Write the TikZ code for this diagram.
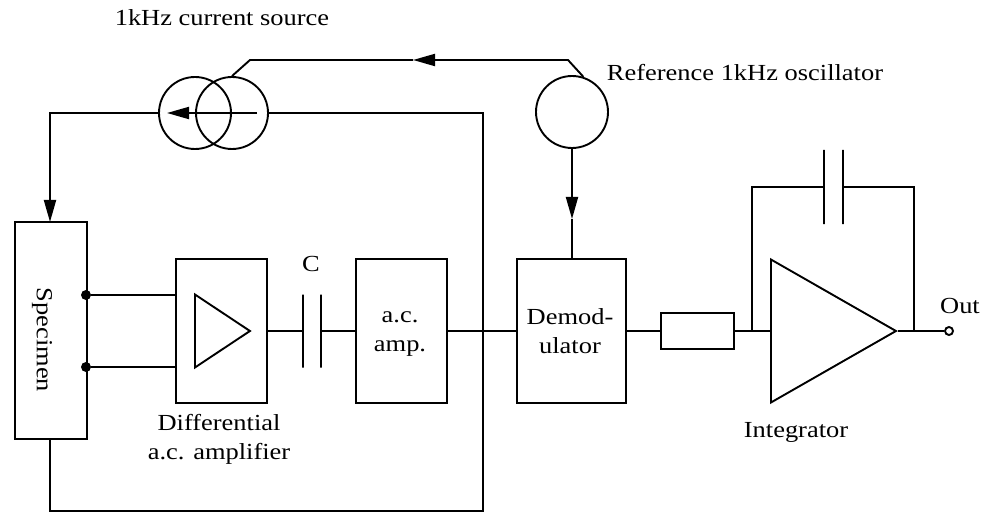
\documentclass[tikz,border=0pt]{standalone}
\usepackage{fontspec}
\setmainfont[FakeStretch=1.15]{Liberation Serif}
\usetikzlibrary{arrows.meta,shapes.geometric}
\tikzset{
	wire/.style={line width=1.9pt},
	tipped/.style={wire,-{Triangle[length=22pt,width=12pt]}},
	block/.style={draw,line width=1.9pt,rectangle,inner sep=0pt},
	source/.style={draw,line width=1.9pt,circle,minimum size=72pt,inner sep=0pt},
	plate/.style={draw,line width=1.9pt,rectangle,minimum width=0pt,minimum height=73pt,inner sep=0pt},
	amp/.style={draw,line width=1.9pt,isosceles triangle,isosceles triangle stretches,inner sep=0pt,anchor=lower side},
	dot/.style={fill,circle,minimum size=10pt,inner sep=0pt},
	lbl/.style={font=\fontsize{23}{29}\selectfont,align=center,inner sep=0pt}
}
\begin{document}
\begin{tikzpicture}[x=1pt,y=-1pt]
	\useasboundingbox (0,0) rectangle (982,513);
	\node[source] (curL) at (195,113) {};
	\node[source] (curR) at (232,113) {};
	\node[source] (osc) at (572,112) {};
	\node[block,minimum width=72pt,minimum height=217pt] (spec) at (51,330.5) {};
	\node[lbl,rotate=-90] at (42,340) {Specimen};
	\node[block,minimum width=91pt,minimum height=144pt] (diff) at (221.5,331) {};
	\node[block,minimum width=91pt,minimum height=144pt] (acamp) at (401.5,331) {};
	\node[block,minimum width=109pt,minimum height=144pt] (demod) at (571.5,331) {};
	\node[block,minimum width=73pt,minimum height=36pt] (res) at (697.5,331) {};
	\node[amp,minimum width=73pt,minimum height=55pt] (pre) at (194,331) {};
	\node[amp,minimum width=143pt,minimum height=125pt] (integ) at (770,331) {};
	\node[plate] (capA) at (303,331) {};
	\node[plate] (capB) at (321,331) {};
	\node[plate,minimum height=74pt] (fbA) at (824,187) {};
	\node[plate,minimum height=74pt] (fbB) at (843,187) {};
	\node[dot] (dotA) at (86,295) {};
	\node[dot] (dotB) at (86,367) {};
	\node[draw,line width=1.9pt,circle,minimum size=8pt,inner sep=0pt] (out) at (949,331) {};
	\node[lbl] at (222,18) {1kHz current source};
	\node[lbl] at (745,73) {Reference 1kHz oscillator};
	\node[lbl] at (311,264) {C};
	\node[lbl] at (400,334) {a.c.\\amp.};
	\node[lbl] at (570,331) {Demod-\\ulator};
	\node[lbl] at (219,439) {Differential\\a.c. amplifier};
	\node[lbl] at (796,432) {Integrator};
	\node[lbl] at (960,306) {Out};
	\coordinate (topL) at (250,60);
	\coordinate (topR) at (568,60);
	\coordinate (topTip) at (413,60);
	\coordinate (oscTip) at (572,219);
	\coordinate (leftUp) at (50,113);
	\coordinate (leftDown) at (50,222);
	\coordinate (rightUp) at (483,113);
	\coordinate (rightDown) at (483,511);
	\coordinate (leftEnd) at (50,511);
	\coordinate (fbL) at (752,331);
	\coordinate (fbR) at (914,331);
	\coordinate (curTail) at (257,113);
	\coordinate (curTip) at (167,113);
	\draw[tipped] (osc.72) -- (topR) -- (topTip);
	\draw[wire] (topTip) -- (topL) -- (curR.90);
	\draw[tipped] (curTail) -- (curTip);
	\draw[tipped] (curL.west) -- (leftUp) -- (leftDown);
	\draw[wire] (curR.east) -- (rightUp) -- (rightDown) -- (leftEnd) -- (leftEnd |- spec.south);
	\draw[tipped] (osc.south) -- (oscTip);
	\draw[wire] (oscTip) -- (demod.north -| oscTip);
	\draw[wire] (dotA) -- (dotA -| diff.west);
	\draw[wire] (dotB) -- (dotB -| diff.west);
	\draw[wire] (diff.east) -- (capA);
	\draw[wire] (capB) -- (acamp.west);
	\draw[wire] (acamp.east) -- (demod.west);
	\draw[wire] (demod.east) -- (res.west);
	\draw[wire] (res.east) -- (integ.lower side);
	\draw[wire] (fbL) -- (fbL |- fbA) -- (fbA);
	\draw[wire] (fbB) -- (fbB -| fbR) -- (fbR);
	\draw[wire] (integ.apex) -- (out.west);
\end{tikzpicture}
\end{document}
